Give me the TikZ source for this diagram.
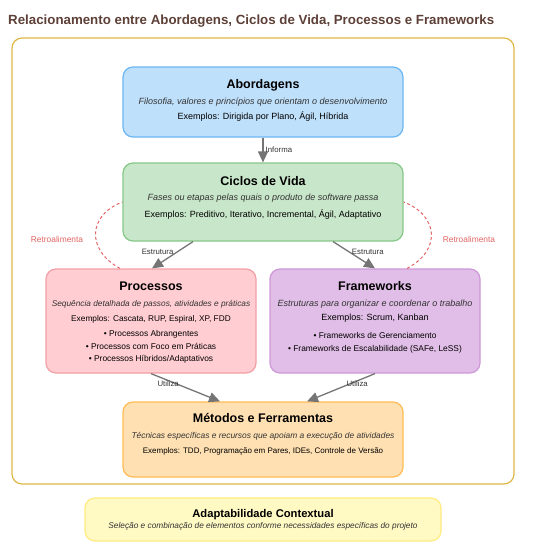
\documentclass[tikz,border=0pt]{standalone}
\usepackage{fontspec}
\setmainfont{Liberation Sans}
\usetikzlibrary{arrows.meta,calc}

\definecolor{titlebrown}{HTML}{5D4037}
\definecolor{framegold}{HTML}{DDB844}
\definecolor{abfill}{HTML}{BFE0FB}
\definecolor{abline}{HTML}{6CB6F2}
\definecolor{cvfill}{HTML}{C8E6C9}
\definecolor{cvline}{HTML}{86C888}
\definecolor{prfill}{HTML}{FFCDD2}
\definecolor{prline}{HTML}{F0A0A6}
\definecolor{fwfill}{HTML}{E1BEE7}
\definecolor{fwline}{HTML}{CE98D8}
\definecolor{mtfill}{HTML}{FFE0B2}
\definecolor{mtline}{HTML}{FFBC55}
\definecolor{adfill}{HTML}{FFF9C4}
\definecolor{adline}{HTML}{FFEB80}
\definecolor{arrowgray}{HTML}{757575}
\definecolor{feedred}{HTML}{E26464}
\definecolor{textgray}{HTML}{333333}

\begin{document}
\begin{tikzpicture}[x=1pt,y=-1pt,
	box/.style={draw, rounded corners=10pt, line width=1.2pt, inner sep=0pt},
	hd/.style={font=\bfseries\fontsize{12.5}{14}\selectfont, anchor=base, text=black},
	ds/.style={font=\itshape\fontsize{#1}{10}\selectfont, anchor=base, text=textgray},
	ds/.default=9,
	ex/.style={font=\fontsize{#1}{10}\selectfont, anchor=base, text=black},
	ex/.default=9,
	lbl/.style={font=\fontsize{7.8}{9}\selectfont, text=textgray, inner sep=0pt},
	arr/.style={draw=arrowgray, line width=1.3pt, -{Triangle[length=11pt,width=10pt]}},
	feed/.style={draw=feedred, line width=1pt, dashed, dash pattern=on 3pt off 2.5pt}]
			      \useasboundingbox (0,0) rectangle (547,551);
			      % Title
			      \node[font=\bfseries\fontsize{13.3}{15}\selectfont, text=titlebrown, anchor=base west, inner sep=0pt] (title) at (8,25) {Relacionamento entre Abordagens, Ciclos de Vida, Processos e Frameworks};
			      % Container
			      \draw[framegold, line width=1.2pt, rounded corners=10pt] (12,38) rectangle (514,484);
			      % Boxes
			      \node[box, fill=abfill, draw=abline, minimum width=280pt, minimum height=70pt] (abord) at (263,102) {};
			      \node[box, fill=cvfill, draw=cvline, minimum width=280pt, minimum height=78pt] (ciclos) at (263,202) {};
			      \node[box, fill=prfill, draw=prline, minimum width=210pt, minimum height=104pt] (proc) at (151,321) {};
			      \node[box, fill=fwfill, draw=fwline, minimum width=210pt, minimum height=104pt] (frame) at (375,321) {};
			      \node[box, fill=mtfill, draw=mtline, minimum width=280pt, minimum height=75pt] (metodos) at (263,439.5) {};
			      \node[box, fill=adfill, draw=adline, minimum width=356pt, minimum height=43pt] (adapt) at (263,519.5) {};
			      % Texts
			      \node[hd] (abordT) at (263,88) {Abordagens};
			      \node[ds] (abordD) at (263,104) {Filosofia, valores e princípios que orientam o desenvolvimento};
			      \node[ex] (abordE) at (263,119) {Exemplos: Dirigida por Plano, Ágil, Híbrida};
			      \node[hd] (ciclosT) at (263,185) {Ciclos de Vida};
			      \node[ds] (ciclosD) at (263,200) {Fases ou etapas pelas quais o produto de software passa};
			      \node[ex] (ciclosE) at (263,217) {Exemplos: Preditivo, Iterativo, Incremental, Ágil, Adaptativo};
			      \node[hd] (procT) at (151,290) {Processos};
			      \node[ds=8.3] (procD) at (151,306) {Sequência detalhada de passos, atividades e práticas};
			      \node[ex=8.3] (procE) at (151,321) {Exemplos: Cascata, RUP, Espiral, XP, FDD};
			      \node[ex=8.4] (procB1) at (151,336) {• Processos Abrangentes};
			      \node[ex=8.4] (procB2) at (151,349) {• Processos com Foco em Práticas};
			      \node[ex=8.4] (procB3) at (151,361) {• Processos Híbridos/Adaptativos};
			      \node[hd] (frameT) at (375,290) {Frameworks};
			      \node[ds] (frameD) at (375,306) {Estruturas para organizar e coordenar o trabalho};
			      \node[ex] (frameE) at (375,320) {Exemplos: Scrum, Kanban};
			      \node[ex=8.4] (frameB1) at (375,338) {• Frameworks de Gerenciamento};
			      \node[ex=8.4] (frameB2) at (375,351) {• Frameworks de Escalabilidade (SAFe, LeSS)};
			      \node[hd] (metodosT) at (263,422) {Métodos e Ferramentas};
			      \node[ds=8.4] (metodosD) at (263,438) {Técnicas específicas e recursos que apoiam a execução de atividades};
			      \node[ex=8] (metodosE) at (263,453) {Exemplos: TDD, Programação em Pares, IDEs, Controle de Versão};
			      \node[hd, font=\bfseries\fontsize{11.2}{13}\selectfont] (adaptT) at (263,517) {Adaptabilidade Contextual};
			      \node[ds=8.3] (adaptD) at (263,528) {Seleção e combinação de elementos conforme necessidades específicas do projeto};
			      % Connectors
			      \draw[arr] (abord.south) -- (ciclos.north) node[lbl, midway, anchor=west, xshift=2pt] (informa) {Informa};
			      \draw[arr] ([xshift=-70pt]ciclos.south) -- ([xshift=1pt]proc.north) node[lbl, pos=0.4, xshift=-19pt] (estrL) {Estrutura};
			      \draw[arr] ([xshift=70pt]ciclos.south) -- (frame.north) node[lbl, pos=0.4, xshift=18pt] (estrR) {Estrutura};
			      \draw[arr] (proc.south) -- ([xshift=-43pt]metodos.north) node[lbl, pos=0.38, xshift=-9pt] (utilL) {Utiliza};
			      \draw[arr] (frame.south) -- ([xshift=44pt]metodos.north) node[lbl, pos=0.38, xshift=8pt] (utilR) {Utiliza};
			      % Feedback
			      \draw[feed] ([xshift=-31pt]proc.north) .. controls (86,250) and (88,215) .. (ciclos.west);
			      \draw[feed] ([xshift=32pt]frame.north) .. controls (442,250) and (438,215) .. (ciclos.east);
			      \node[lbl, text=feedred, font=\fontsize{8.4}{10}\selectfont] (retroL) at (57,239) {Retroalimenta};
			      \node[lbl, text=feedred, font=\fontsize{8.4}{10}\selectfont] (retroR) at (469,239) {Retroalimenta};
		      \end{tikzpicture}
\end{document}
